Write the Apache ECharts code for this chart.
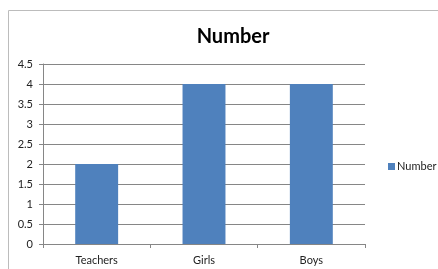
<!DOCTYPE html>
<html>
<head>
<meta charset="utf-8">
<script src="https://cdn.jsdelivr.net/npm/echarts@6/dist/echarts.min.js"></script>
<style>
  html, body { margin: 0; padding: 0; background: #fff; }
  #chart { width: 438px; height: 269px; }
</style>
</head>
<body>
<div id="chart"></div>
<script>
// data
var categories = ['Teachers', 'Girls', 'Boys'];
var numberValues = [2, 4, 4];
var seriesName = 'Number';

var myChart = echarts.init(document.getElementById('chart'));
var font = 'Lato, "Open Sans", sans-serif';

var option = {
    animation: false,
    title: {
        text: 'Number',
        left: 228,
        textAlign: 'center',
        top: 22,
        textStyle: {
            fontFamily: font,
            fontSize: 20,
            fontWeight: 'bold',
            color: '#000'
        }
    },
    // outer chart-area border
    graphic: [{
        type: 'rect',
        shape: { x: 8.5, y: 10.5, width: 440, height: 270 },
        style: { fill: 'none', stroke: '#bcbcbc', lineWidth: 1 }
    }],
    legend: {
        data: [seriesName],
        left: 383,
        top: 156,
        icon: 'rect',
        itemWidth: 7,
        itemHeight: 7,
        itemGap: 2,
        textStyle: { fontFamily: font, fontSize: 11, color: '#222', padding: [0, 0, 0, -3] }
    },
    grid: {
        left: 43,
        right: 73,
        top: 64,
        bottom: 25
    },
    xAxis: {
        type: 'category',
        data: categories,
        axisLine: { lineStyle: { color: '#868686' } },
        axisTick: { show: true, alignWithLabel: false, length: 4, lineStyle: { color: '#868686' } },
        axisLabel: { fontFamily: font, fontSize: 11, color: '#222', margin: 11 }
    },
    yAxis: {
        type: 'value',
        min: 0,
        max: 4.5,
        interval: 0.5,
        axisLine: { show: true, lineStyle: { color: '#868686' } },
        axisTick: { show: true, inside: false, length: 4, lineStyle: { color: '#868686' } },
        axisLabel: { fontFamily: font, fontSize: 11, color: '#222', margin: 10 },
        splitLine: { lineStyle: { color: '#868686' } }
    },
    series: [{
        name: seriesName,
        type: 'bar',
        barWidth: '40%',
        itemStyle: { color: '#4F81BD' },
        data: numberValues
    }]
};

myChart.setOption(option);
</script>
</body>
</html>
